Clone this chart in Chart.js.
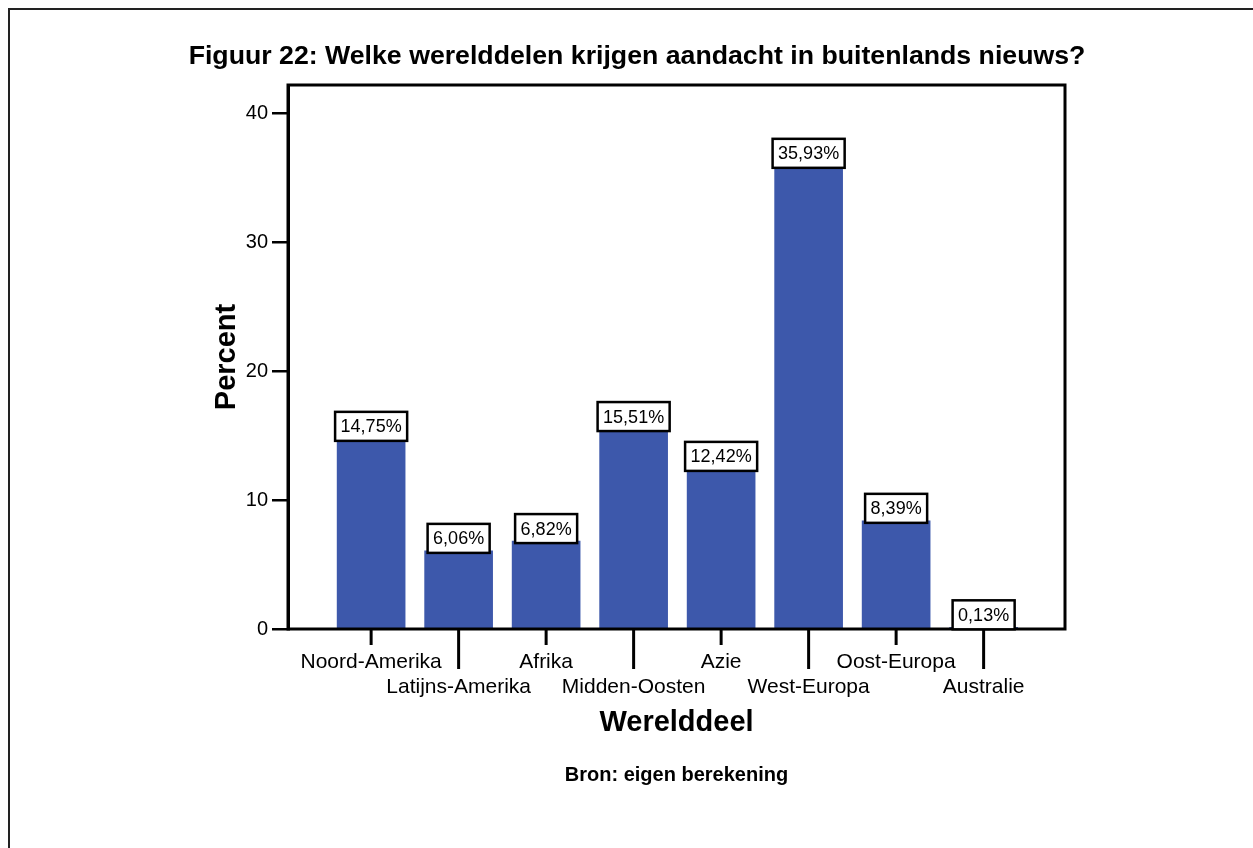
<!DOCTYPE html>
<html>
<head>
<meta charset="utf-8">
<script src="https://cdn.jsdelivr.net/npm/chart.js@4"></script>
<style>
  html, body { margin: 0; padding: 0; background: #fff; }
  #wrap { width: 1253px; height: 848px; }
</style>
</head>
<body>
<div id="wrap"><canvas id="grafiek" width="1253" height="848"></canvas></div>
<script>
// data van de figuur
const categories = ['Noord-Amerika', 'Latijns-Amerika', 'Afrika', 'Midden-Oosten', 'Azie', 'West-Europa', 'Oost-Europa', 'Australie'];
const percentages = [14.75, 6.06, 6.82, 15.51, 12.42, 35.93, 8.39, 0.13];
const yTicks = [0, 10, 20, 30, 40];

const titleText = 'Figuur 22: Welke werelddelen krijgen aandacht in buitenlands nieuws?';
const yTitle = 'Percent';
const xTitle = 'Werelddeel';
const sourceText = 'Bron: eigen berekening';

const FONT = '"Liberation Sans", Arial, sans-serif';

const fmt = v => v.toFixed(2).replace('.', ',') + '%';

const extras = {
  id: 'extras',
  afterDatasetsDraw(chart) {
    const ctx = chart.ctx;
    const a = chart.chartArea;
    const xs = chart.scales.x;
    const ys = chart.scales.y;
    ctx.save();

    // kader rond plot
    ctx.strokeStyle = '#000';
    ctx.lineWidth = 3;
    ctx.strokeRect(a.left, a.top, a.right - a.left, a.bottom - a.top);

    // waardelabels
    ctx.font = '18px ' + FONT;
    ctx.textAlign = 'center';
    ctx.textBaseline = 'middle';
    percentages.forEach((v, i) => {
      const x = xs.getPixelForValue(i);
      const top = ys.getPixelForValue(v);
      const txt = fmt(v);
      const w = ctx.measureText(txt).width + 11;
      const h = 29;
      const bottom = top + 2;
      ctx.fillStyle = '#fff';
      ctx.fillRect(x - w / 2, bottom - h, w, h);
      ctx.lineWidth = 2.5;
      ctx.strokeRect(x - w / 2, bottom - h, w, h);
      ctx.fillStyle = '#000';
      ctx.fillText(txt, x, bottom - h / 2 + 1);
    });

    // x-as ticks en labels (verspringend)
    ctx.font = '21px ' + FONT;
    categories.forEach((c, i) => {
      const x = xs.getPixelForValue(i);
      const lng = i % 2 === 1;
      ctx.lineWidth = 3;
      ctx.beginPath();
      ctx.moveTo(x, a.bottom);
      ctx.lineTo(x, a.bottom + (lng ? 40 : 16));
      ctx.stroke();
      ctx.fillText(c, x, lng ? 687 : 662);
    });

    // titels
    ctx.font = 'bold 26.7px ' + FONT;
    ctx.fillText(titleText, 637, 57);
    ctx.font = 'bold 29px ' + FONT;
    ctx.fillText(xTitle, (a.left + a.right) / 2, 723);
    ctx.font = 'bold 20px ' + FONT;
    ctx.fillText(sourceText, (a.left + a.right) / 2, 775);

    ctx.save();
    ctx.translate(227, (a.top + a.bottom) / 2);
    ctx.rotate(-Math.PI / 2);
    ctx.font = 'bold 29px ' + FONT;
    ctx.fillText(yTitle, 0, 0);
    ctx.restore();

    // buitenrand
    ctx.lineWidth = 2;
    ctx.strokeStyle = '#222';
    ctx.strokeRect(9, 9, 1400, 1000);
    ctx.restore();
  }
};

new Chart(document.getElementById('grafiek'), {
  type: 'bar',
  data: {
    datasets: [{
      data: percentages.map((v, i) => ({ x: i, y: v })),
      backgroundColor: '#3d58ab',
      borderWidth: 0,
      barThickness: 68
    }]
  },
  options: {
    responsive: false,
    animation: false,
    layout: { padding: { left: 0, top: 85, right: 188, bottom: 219 } },
    plugins: { legend: { display: false }, tooltip: { enabled: false } },
    scales: {
      x: { type: 'linear', min: -0.95, max: 7.93, offset: false, display: false },
      y: {
        min: 0,
        max: 42.2,
        afterBuildTicks: s => { s.ticks = yTicks.map(v => ({ value: v })); },
        afterFit: s => { s.width = 288; },
        grid: { drawOnChartArea: false, drawTicks: true, tickLength: 16, color: '#000', lineWidth: 2.5 },
        border: { display: true, color: '#000', width: 3 },
        ticks: { color: '#000', padding: 4, font: { size: 20, family: FONT } }
      }
    }
  },
  plugins: [extras]
});
</script>
</body>
</html>
